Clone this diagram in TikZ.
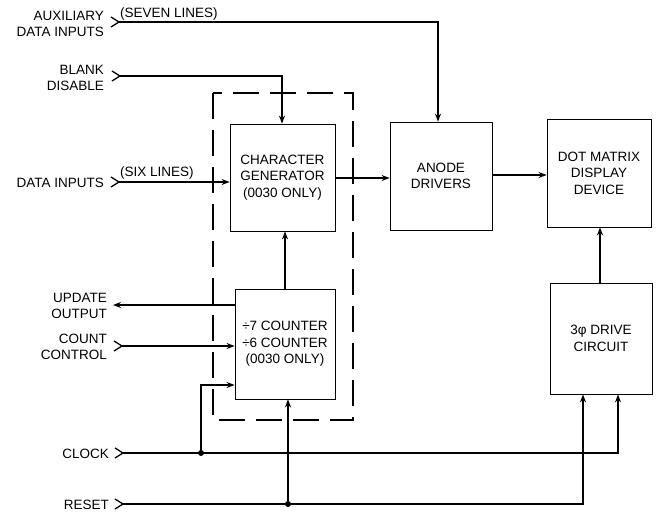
\documentclass[tikz,border=0pt]{standalone}
\usepackage{fontspec}
\setmainfont{Liberation Sans}
\usetikzlibrary{arrows.meta}
\begin{document}
\begin{tikzpicture}[x=1pt,y=-1pt,
  txt/.style={font=\fontsize{13.5}{16.5}\selectfont, align=center, inner sep=0pt},
  lbl/.style={txt, align=right, anchor=east},
  blk/.style={draw, line width=0.8pt, txt, inner sep=0pt},
  wire/.style={line width=1.3pt},
  arr/.style={wire, -{Stealth[length=8pt,width=6pt]}},
  chev/.style={line width=1.3pt},
  dot/.style={circle, fill, inner sep=0pt, minimum size=6pt},
  dashbox/.style={line width=2.2pt, dash pattern=on 26pt off 11pt}]
\useasboundingbox (0,0) rectangle (657,515);

% blocks
\node[blk, minimum width=105pt, minimum height=107pt] (cg) at (282.5,177.5) {CHARACTER\\GENERATOR\\(0030 ONLY)};
\node[blk, minimum width=100pt, minimum height=110pt] (cnt) at (285,344) {÷7 COUNTER\\÷6 COUNTER\\(0030 ONLY)};
\node[blk, minimum width=102pt, minimum height=108pt] (an) at (441,176) {ANODE\\DRIVERS};
\node[blk, minimum width=104pt, minimum height=108pt] (dm) at (599,173) {DOT MATRIX\\DISPLAY\\DEVICE};
\node[blk, minimum width=102pt, minimum height=111pt] (dr) at (601,338.5) {3φ DRIVE\\CIRCUIT};

% dashed enclosure
\draw[dashbox] (213,93) rectangle (353,420);

% input labels
\node[lbl] (laux) at (104,24) {AUXILIARY\\DATA INPUTS};
\node[lbl] (lblk) at (104,78) {BLANK\\DISABLE};
\node[lbl] (ldin) at (104,183) {DATA INPUTS};
\node[lbl] (lupd) at (107,306) {UPDATE\\OUTPUT};
\node[lbl] (lcc) at (107,347) {COUNT\\CONTROL};
\node[lbl] (lclk) at (109,454) {CLOCK};
\node[lbl] (lrst) at (109,505) {RESET};

% input points (chevron tips)
\coordinate (aux) at (119,22);
\coordinate (blk) at (120,76);
\coordinate (din) at (119,182);
\coordinate (upd) at (113,305);
\coordinate (cc) at (122,346);
\coordinate (clk) at (123,453);
\coordinate (rst) at (123,504);

\foreach \p in {aux,blk,din,cc,clk,rst}
  \draw[chev] ([shift={(-8,-5)}]\p) -- (\p) -- ([shift={(-8,5)}]\p);

% line labels
\node[txt, anchor=south west] (l7) at (120,20) {(SEVEN LINES)};
\node[txt, anchor=south west] (l6) at (120,179) {(SIX LINES)};

% turning points
\coordinate (auxx) at (438,0);
\coordinate (blkx) at (282,0);
\coordinate (clkj) at (201,453);
\coordinate (rstj) at (288,504);
\coordinate (clkx) at (618,0);
\coordinate (rstx) at (583,0);
\coordinate (clkin) at (0,385);

% connectors
\draw[arr] (aux) -| (auxx |- an.north);
\draw[arr] (blk) -| (blkx |- cg.north);
\draw[arr] (din) -- (din -| cg.west);
\draw[arr] (cg.east |- 0,178) -- (an.west |- 0,178);
\draw[arr] (an.east |- 0,175) -- (dm.west |- 0,175);
\draw[arr] (dr.north -| 600,0) -- (dm.south -| 600,0);
\draw[arr] (cnt.north -| 285,0) -- (cg.south -| 285,0);
\draw[arr] (cnt.west |- upd) -- (upd);
\draw[arr] (cc) -- (cc -| cnt.west);
\draw[wire] (clk) -- (clkj);
\draw[arr] (clkj) -- (clkj |- clkin) -- (clkin -| cnt.west);
\draw[arr] (clkj) -| (clkx |- dr.south);
\draw[wire] (rst) -- (rstj);
\draw[arr] (rstj) -- (rstj |- cnt.south);
\draw[arr] (rstj) -| (rstx |- dr.south);
\node[dot] at (clkj) {};
\node[dot] at (rstj) {};
\end{tikzpicture}
\end{document}
